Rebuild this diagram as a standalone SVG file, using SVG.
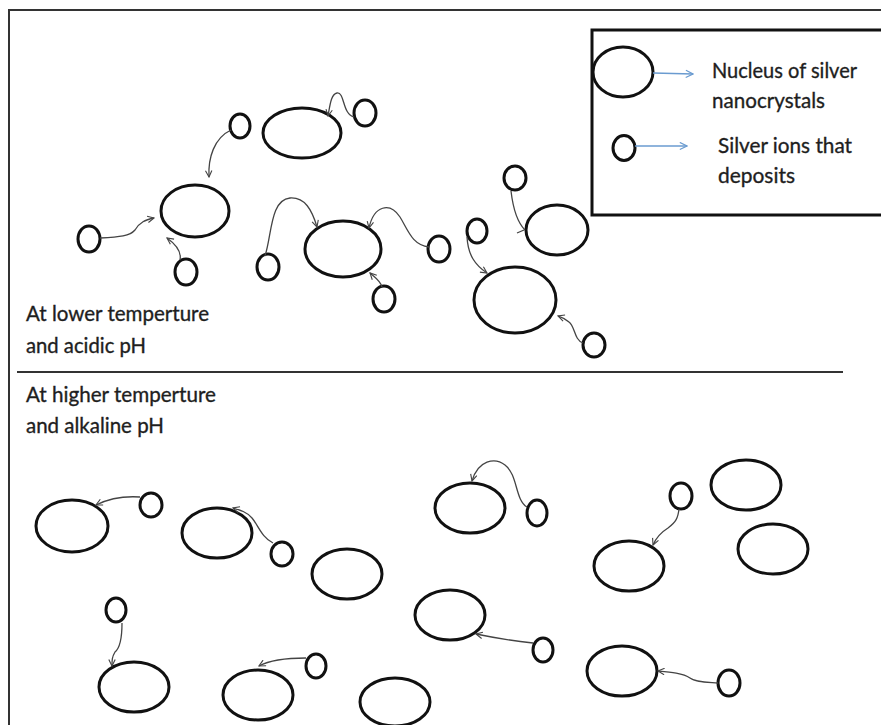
<svg xmlns="http://www.w3.org/2000/svg" width="881" height="725" viewBox="0 0 881 725">
<style>
.n{fill:none;stroke:#111;stroke-width:3}
.c{fill:none;stroke:#444;stroke-width:1.3}
.t{font-family:Lato,"Liberation Sans",sans-serif;font-size:21.5px;fill:#1e1e1e;stroke:#1e1e1e;stroke-width:0.35}
.b{fill:none;stroke:#6a9bd0;stroke-width:1.4}
</style>
<defs>
<marker id="ah" viewBox="0 0 10 10" refX="9" refY="5" markerWidth="8" markerHeight="8" orient="auto" markerUnits="userSpaceOnUse"><path d="M1,1 L9,5 L1,9" fill="none" stroke="#444" stroke-width="1.4"/></marker>
<marker id="bh" viewBox="0 0 10 10" refX="9" refY="5" markerWidth="9" markerHeight="9" orient="auto" markerUnits="userSpaceOnUse"><path d="M1,1 L9,5 L1,9" fill="none" stroke="#6a9bd0" stroke-width="1.3"/></marker>
</defs>
<rect x="0" y="0" width="881" height="725" fill="#fff"/>
<rect x="9" y="10" width="900" height="800" fill="none" stroke="#333" stroke-width="2"/>
<line x1="17" y1="372" x2="843" y2="372" stroke="#333" stroke-width="2"/>
<g id="legend">
<rect x="592" y="30" width="300" height="185" fill="none" stroke="#111" stroke-width="3"/>
<ellipse cx="623" cy="72" rx="30" ry="25" class="n"/>
<path d="M653,73 L693,74" class="b" marker-end="url(#bh)"/>
<text x="712" y="78" class="t" textLength="145" lengthAdjust="spacingAndGlyphs">Nucleus of silver</text>
<text x="712" y="108" class="t" textLength="113" lengthAdjust="spacingAndGlyphs">nanocrystals</text>
<ellipse cx="624" cy="148" rx="11" ry="12.5" class="n"/>
<path d="M635,146 L687,146" class="b" marker-end="url(#bh)"/>
<text x="718" y="153" class="t" textLength="134" lengthAdjust="spacingAndGlyphs">Silver ions that</text>
<text x="718" y="183" class="t" textLength="77" lengthAdjust="spacingAndGlyphs">deposits</text>
</g>
<g id="labels">
<text x="26" y="321" class="t" textLength="183" lengthAdjust="spacingAndGlyphs">At lower temperture</text>
<text x="26" y="353" class="t" textLength="120" lengthAdjust="spacingAndGlyphs">and acidic pH</text>
<text x="26" y="402" class="t" textLength="190" lengthAdjust="spacingAndGlyphs">At higher temperture</text>
<text x="26" y="433" class="t" textLength="138" lengthAdjust="spacingAndGlyphs">and alkaline pH</text>
</g>
<g id="top-nuclei">
<ellipse id="E1" cx="302" cy="133" rx="39" ry="25" class="n"/>
<ellipse id="E2" cx="195" cy="211" rx="34" ry="26" class="n"/>
<ellipse id="E3" cx="343" cy="249" rx="38" ry="28" class="n"/>
<ellipse id="E4" cx="557" cy="230" rx="31" ry="25" class="n"/>
<ellipse id="E5" cx="515" cy="300" rx="41" ry="33" class="n"/>
</g>
<g id="top-ions">
<ellipse cx="240" cy="126" rx="10" ry="12" class="n"/>
<ellipse cx="365" cy="113" rx="11" ry="13" class="n"/>
<ellipse cx="89" cy="239" rx="11" ry="13" class="n"/>
<ellipse cx="186" cy="272" rx="11" ry="13" class="n"/>
<ellipse cx="268" cy="267" rx="11" ry="13" class="n"/>
<ellipse cx="384" cy="299" rx="11" ry="13" class="n"/>
<ellipse cx="439" cy="249" rx="11" ry="13" class="n"/>
<ellipse cx="515" cy="178" rx="11" ry="12" class="n"/>
<ellipse cx="477" cy="231" rx="10" ry="12" class="n"/>
<ellipse cx="594" cy="345" rx="11" ry="12" class="n"/>
</g>
<g id="bottom-nuclei">
<ellipse cx="72" cy="526" rx="36" ry="26" class="n"/>
<ellipse cx="217" cy="533" rx="35" ry="25" class="n"/>
<ellipse cx="347" cy="574" rx="35" ry="25" class="n"/>
<ellipse cx="134" cy="687" rx="35" ry="25" class="n"/>
<ellipse cx="258" cy="695" rx="35" ry="25" class="n"/>
<ellipse cx="395" cy="702" rx="35" ry="24" class="n"/>
<ellipse cx="470" cy="508" rx="35" ry="25" class="n"/>
<ellipse cx="450" cy="615" rx="35" ry="25" class="n"/>
<ellipse cx="629" cy="566" rx="35" ry="25" class="n"/>
<ellipse cx="746" cy="485" rx="35" ry="25" class="n"/>
<ellipse cx="773" cy="549" rx="35" ry="25" class="n"/>
<ellipse cx="622" cy="671" rx="35" ry="25" class="n"/>
</g>
<g id="bottom-ions">
<ellipse cx="151" cy="505" rx="11" ry="12" class="n"/>
<ellipse cx="282" cy="554" rx="11" ry="12" class="n"/>
<ellipse cx="116" cy="610" rx="10" ry="12" class="n"/>
<ellipse cx="316" cy="666" rx="10" ry="12" class="n"/>
<ellipse cx="537" cy="513" rx="10" ry="13" class="n"/>
<ellipse cx="681" cy="496" rx="11" ry="13" class="n"/>
<ellipse cx="543" cy="650" rx="10" ry="12" class="n"/>
<ellipse cx="729" cy="683" rx="11" ry="13" class="n"/>
</g>
<g id="connectors">
<path d="M231,130 C214,138 208,158 209,177" class="c" marker-end="url(#ah)"/>
<path d="M354,117 C342,114 345,92 337,93 C331,94 330,105 328,116" class="c" marker-end="url(#ah)"/>
<path d="M100,238 C120,237 130,236 135,230 C140,222 145,220 154,218" class="c" marker-end="url(#ah)"/>
<path d="M180,260 C182,250 174,243 167,238" class="c" marker-end="url(#ah)"/>
<path d="M265,256 C272,235 270,200 290,198 C305,197 312,210 317,227" class="c" marker-end="url(#ah)"/>
<path d="M429,247 C412,245 408,230 400,217 C390,202 374,205 369,228" class="c" marker-end="url(#ah)"/>
<path d="M382,287 C380,280 374,277 370,273" class="c" marker-end="url(#ah)"/>
<path d="M511,191 C513,208 517,222 525,230 M517,233 L524,230" class="c"/>
<path d="M467,237 C468,255 475,265 487,273" class="c" marker-end="url(#ah)"/>
<path d="M583,343 C574,340 575,326 569,322 C565,318 561,317 558,316" class="c" marker-end="url(#ah)"/>
<path d="M140,497 C125,496 110,498 96,505" class="c" marker-end="url(#ah)"/>
<path d="M273,543 C262,538 258,525 252,518 C247,512 240,510 233,508" class="c" marker-end="url(#ah)"/>
<path d="M122,623 C122,640 120,648 115,652 C112,657 112,660 112,666" class="c" marker-end="url(#ah)"/>
<path d="M306,658 C290,658 270,660 259,666" class="c" marker-end="url(#ah)"/>
<path d="M527,507 C515,500 518,475 505,465 C495,457 478,460 472,481" class="c" marker-end="url(#ah)"/>
<path d="M679,509 C678,518 676,522 668,528 C660,533 656,538 653,545" class="c" marker-end="url(#ah)"/>
<path d="M533,643 C515,641 495,638 476,634" class="c" marker-end="url(#ah)"/>
<path d="M718,683 C705,682 695,682 690,678 C683,673 670,672 658,671" class="c" marker-end="url(#ah)"/>
</g>
</svg>
